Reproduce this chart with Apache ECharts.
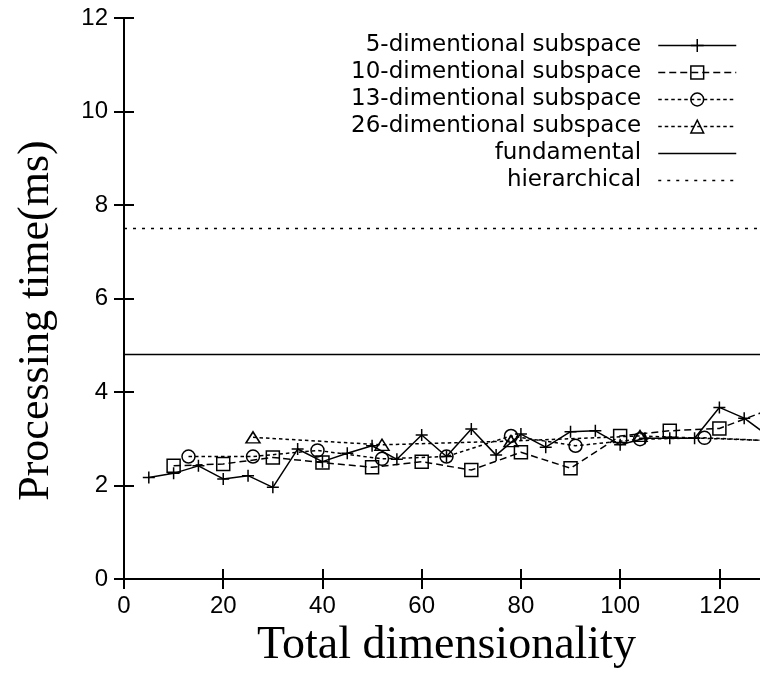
<!DOCTYPE html>
<html>
<head>
<meta charset="utf-8">
<script src="https://cdn.jsdelivr.net/npm/echarts@6/dist/echarts.min.js"></script>
<style>
  html, body { margin: 0; padding: 0; background: #fff; }
  #main { width: 760px; height: 673px; }
</style>
</head>
<body>
<div id="main"></div>
<script>
// data
var xSub5 = [5,10,15,20,25,30,35,40,45,50,55,60,65,70,75,80,85,90,95,100,105,110,115,120,125,130];
var time5 = [2.17,2.26,2.42,2.14,2.21,1.96,2.78,2.51,2.69,2.85,2.56,3.08,2.62,3.21,2.65,3.10,2.82,3.15,3.17,2.87,3.01,3.01,3.01,3.67,3.44,3.05];

var xSub10 = [10,20,30,40,50,60,70,80,90,100,110,120,130];
var time10 = [2.42,2.46,2.60,2.49,2.39,2.51,2.33,2.71,2.37,3.06,3.17,3.22,3.62];

var xSub13 = [13,26,39,52,65,78,91,104,117,130];
var time13 = [2.62,2.62,2.75,2.57,2.62,3.06,2.85,2.99,3.02,2.96];

var xSub26 = [26,52,78,104,130];
var time26 = [3.03,2.87,2.95,3.06,2.96];

var fundamentalTime = 4.8;
var hierarchicalTime = 7.5;

// the plot runs to x=130, a bit past the right edge of the picture
var xRange = [0, 130];
var yTicks = [0, 2, 4, 6, 8, 10, 12];

var names = ['5-dimentional subspace', '10-dimentional subspace', '13-dimentional subspace',
             '26-dimentional subspace', 'fundamental', 'hierarchical'];

function pairs(xs, ys) {
  return xs.map(function (x, i) { return [x, ys[i]]; });
}

// open markers (transparent inside, like gnuplot)
var plusSym = 'path://M0,5H10M5,0V10';
var squareSym = 'path://M0,0H10V10H0Z';
var circleSym = 'path://M10,5A5,5,0,1,1,0,5A5,5,0,1,1,10,5Z';
var triSym = 'path://M5,0L10,9L0,9Z';

var markStyle = { color: 'transparent', borderColor: '#000', borderWidth: 1.5 };

function subLine(name, data, sym, size, dash) {
  return {
    name: name,
    type: 'line',
    data: data,
    symbol: sym,
    symbolSize: size,
    showAllSymbol: true,
    animation: false,
    lineStyle: { color: '#000', width: 1.5, type: dash },
    itemStyle: markStyle,
    emphasis: { disabled: true }
  };
}

function flatLine(name, y, dash) {
  return {
    name: name,
    type: 'line',
    data: [[xRange[0], y], [xRange[1], y]],
    symbol: 'none',
    animation: false,
    lineStyle: { color: '#000', width: 1.5, type: dash },
    itemStyle: { color: '#000' },
    emphasis: { disabled: true }
  };
}

var chart = echarts.init(document.getElementById('main'));

var tickStyle = { show: true, inside: true, length: 10, lineStyle: { color: '#000', width: 2 } };
var lineStyleAxis = { show: true, lineStyle: { color: '#000', width: 2 } };

chart.setOption({
  backgroundColor: '#fff',
  animation: false,
  grid: { left: 124, width: 645, top: 18, bottom: 94, containLabel: false, outerBoundsMode: 'none' },
  legend: {
    orient: 'vertical',
    right: 23,
    top: 34,
    padding: 0,
    itemWidth: 78,
    itemHeight: 16,
    itemGap: 4,
    align: 'right',
    selectedMode: false,
    itemStyle: { color: 'transparent', borderColor: '#000', borderWidth: 1.5 },
    lineStyle: { width: 1.5 },
    textStyle: {
      fontFamily: 'DejaVu Sans',
      fontSize: 23,
      color: '#000',
      padding: [0, 12, 0, 0]
    },
    data: names.map(function (n, i) {
      return i >= 4 ? { name: n, itemStyle: { opacity: 0 } } : { name: n };
    })
  },
  xAxis: [{
    type: 'value',
    min: xRange[0],
    max: xRange[1],
    interval: 20,
    name: 'Total dimensionality',
    nameLocation: 'middle',
    nameGap: 44,
    nameTextStyle: { fontFamily: 'Liberation Serif', fontSize: 46, color: '#000' },
    axisLine: lineStyleAxis,
    axisTick: tickStyle,
    splitLine: { show: false },
    axisLabel: {
      margin: 15,
      fontFamily: 'Liberation Sans',
      fontSize: 24,
      color: '#000',
      formatter: function (v) { return v % 20 === 0 ? String(v) : ''; }
    }
  }, {
    type: 'value',
    position: 'top',
    min: xRange[0],
    max: xRange[1],
    interval: 20,
    axisLine: lineStyleAxis,
    axisTick: tickStyle,
    splitLine: { show: false },
    axisLabel: { show: false }
  }],
  yAxis: [{
    type: 'value',
    min: yTicks[0],
    max: yTicks[yTicks.length - 1],
    interval: 2,
    name: 'Processing time(ms)',
    nameLocation: 'middle',
    nameGap: 66,
    nameTextStyle: {
      fontFamily: 'Liberation Serif',
      fontSize: 44,
      color: '#000',
      padding: [0, 44, 0, 0]
    },
    axisLine: lineStyleAxis,
    axisTick: tickStyle,
    splitLine: { show: false },
    axisLabel: {
      margin: 16,
      fontFamily: 'Liberation Sans',
      fontSize: 24,
      color: '#000'
    }
  }, {
    type: 'value',
    position: 'right',
    min: yTicks[0],
    max: yTicks[yTicks.length - 1],
    interval: 2,
    axisLine: lineStyleAxis,
    axisTick: tickStyle,
    splitLine: { show: false },
    axisLabel: { show: false }
  }],
  series: [
    subLine(names[0], pairs(xSub5, time5), plusSym, 12, 'solid'),
    subLine(names[1], pairs(xSub10, time10), squareSym, 13, [7, 4]),
    subLine(names[2], pairs(xSub13, time13), circleSym, 13, [3.5, 3]),
    subLine(names[3], pairs(xSub26, time26), triSym, [14, 11], [3.5, 3]),
    flatLine(names[4], fundamentalTime, 'solid'),
    flatLine(names[5], hierarchicalTime, [3, 6])
  ]
});
</script>
</body>
</html>
